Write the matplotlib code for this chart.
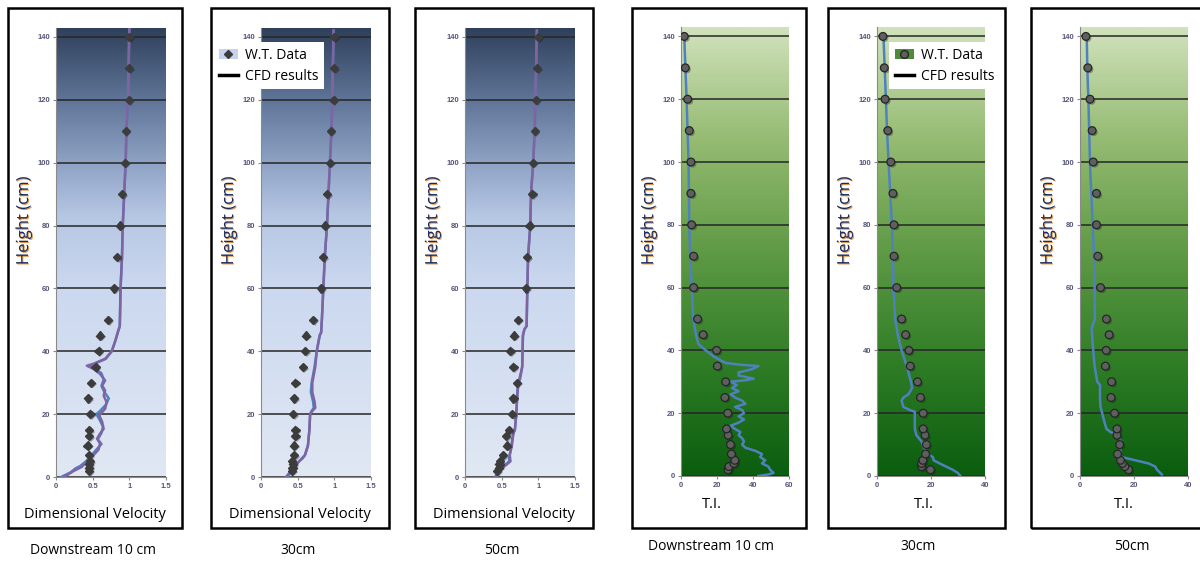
"""Velocity and turbulence-intensity profiles: wind tunnel vs CFD, six panels."""
import numpy as np
import matplotlib
matplotlib.use("Agg")
import matplotlib.pyplot as plt
import matplotlib.patheffects as pe
from matplotlib.colors import LinearSegmentedColormap
from matplotlib.lines import Line2D
from matplotlib.patches import Patch, Rectangle

# ---- data -------------------------------------------------------------
WT_HEIGHT = [2, 3, 4, 5, 7, 10, 13, 15, 20, 25, 30, 35, 40, 45, 50,
             60, 70, 80, 90, 100, 110, 120, 130, 140]

VEL_WT_10 = [0.45, 0.45, 0.45, 0.46, 0.45, 0.43, 0.45, 0.45, 0.47, 0.44, 0.48, 0.54,
             0.58, 0.60, 0.71, 0.79, 0.83, 0.87, 0.90, 0.94, 0.95, 1.00, 1.00, 1.00]
VEL_WT_30 = [0.42, 0.43, 0.44, 0.42, 0.45, 0.45, 0.47, 0.47, 0.44, 0.45, 0.47, 0.57,
             0.60, 0.61, 0.71, 0.82, 0.85, 0.87, 0.90, 0.94, 0.95, 0.99, 1.00, 1.00]
VEL_WT_50 = [0.44, 0.46, 0.47, 0.48, 0.52, 0.57, 0.56, 0.60, 0.64, 0.66, 0.71, 0.66,
             0.62, 0.67, 0.72, 0.83, 0.85, 0.88, 0.92, 0.93, 0.95, 0.97, 0.98, 1.00]

TI_WT_10 = [26.2, 26.6, 29.4, 29.9, 28.0, 27.5, 26.2, 25.3, 26.0, 24.4, 24.8, 20.2,
            19.8, 12.3, 9.2, 7.0, 7.0, 5.9, 5.5, 5.5, 4.6, 3.7, 2.4, 1.8]
TI_WT_30 = [19.8, 16.5, 16.5, 17.0, 18.0, 18.3, 17.8, 17.1, 17.1, 16.1, 15.0, 12.3,
            11.8, 10.6, 9.1, 7.3, 6.3, 6.3, 5.9, 5.1, 4.0, 3.0, 2.7, 2.2]
TI_WT_50 = [18.0, 16.6, 15.7, 15.0, 13.9, 14.7, 13.7, 13.7, 12.8, 11.5, 11.7, 9.4,
            9.7, 10.8, 9.8, 7.6, 6.6, 6.1, 6.1, 4.9, 4.5, 3.7, 2.9, 2.2]

# CFD velocity, 10 cm (purple run and blue run)
CFD_H_10 = [0, 1.9, 3.2, 4.8, 6.9, 8.7, 10.6, 12.2, 13.8, 15.3, 17.5, 19.6, 21.7, 23.8,
            25.9, 27.5, 29.1, 30.7, 32.8, 34.4, 35.4, 36, 37.6, 40, 43.4, 46.6, 48,
            60, 70, 80, 90, 100, 110, 120, 130, 143]
CFD_V_10 = [0.11, 0.24, 0.35, 0.42, 0.51, 0.58, 0.60, 0.56, 0.60, 0.65, 0.63, 0.59, 0.67,
            0.69, 0.65, 0.67, 0.63, 0.67, 0.60, 0.51, 0.42, 0.51, 0.67, 0.76, 0.81, 0.85,
            0.87, 0.88, 0.90, 0.91, 0.93, 0.95, 0.96, 0.98, 0.99, 1.00]
CFD_H_10B = [0, 1.5, 2.8, 3.5, 4.8, 6.5, 8.7, 10.5, 12, 14, 16, 18, 20, 21, 23, 25, 27,
             29, 31, 33, 34.4, 35.4, 36, 37.6, 40, 43.4, 46.6, 48, 60, 70, 80, 90, 100,
             110, 120, 130, 143]
CFD_V_10B = [0.07, 0.20, 0.27, 0.33, 0.40, 0.47, 0.55, 0.62, 0.57, 0.62, 0.64, 0.60, 0.55,
             0.60, 0.68, 0.72, 0.66, 0.62, 0.65, 0.62, 0.53, 0.45, 0.52, 0.68, 0.76, 0.81,
             0.85, 0.87, 0.88, 0.90, 0.91, 0.93, 0.95, 0.96, 0.98, 0.99, 1.00]

CFD_H_30 = [0, 2, 5, 6, 7, 10, 15, 20, 21, 22, 24, 27, 30, 35, 40, 45, 46, 50, 60, 70,
            80, 90, 100, 110, 120, 130, 142]
CFD_V_30 = [0.34, 0.41, 0.52, 0.57, 0.60, 0.64, 0.66, 0.67, 0.70, 0.74, 0.73, 0.70, 0.70,
            0.74, 0.76, 0.80, 0.82, 0.83, 0.85, 0.87, 0.90, 0.92, 0.94, 0.96, 0.97, 0.98, 0.99]
CFD_V_30B = [0.36, 0.42, 0.52, 0.56, 0.60, 0.64, 0.66, 0.67, 0.69, 0.72, 0.71, 0.68, 0.69,
             0.73, 0.76, 0.80, 0.82, 0.83, 0.85, 0.87, 0.90, 0.92, 0.94, 0.96, 0.97, 0.98, 0.99]

CFD_H_50 = [0, 2, 4, 5, 7, 10, 14, 15, 20, 25, 30, 31, 35, 45, 47, 48, 60, 70, 80, 90,
            100, 110, 120, 130, 142]
CFD_V_50 = [0.41, 0.46, 0.57, 0.62, 0.61, 0.64, 0.66, 0.68, 0.70, 0.71, 0.73, 0.74, 0.78,
            0.79, 0.81, 0.84, 0.85, 0.86, 0.89, 0.90, 0.93, 0.95, 0.96, 0.97, 0.98]
CFD_V_50B = [0.43, 0.47, 0.56, 0.60, 0.61, 0.63, 0.66, 0.68, 0.70, 0.71, 0.72, 0.75, 0.78,
             0.79, 0.81, 0.84, 0.85, 0.86, 0.89, 0.90, 0.93, 0.95, 0.96, 0.97, 0.98]

# CFD turbulence intensity
CFD_TI_H_10 = [0, 0.5, 1, 2, 3, 4, 5, 6, 7, 8, 9, 10, 11, 12, 13, 14, 15, 16, 17, 18,
               19, 20, 21, 22, 23, 24, 25, 26, 27, 28, 29, 30, 30.5, 31, 32, 33, 34, 35,
               35.5, 36, 38, 40, 42, 45, 50, 60, 70, 80, 100, 120, 140]
CFD_TI_10 = [43, 48.6, 51.4, 49.5, 48.6, 45, 46.8, 44, 45, 41.3, 35.8, 34, 35, 34, 32,
             33, 30, 27.5, 32, 35, 32, 35, 34, 30, 35.8, 34, 30, 27.5, 32, 28.4, 31,
             27.5, 35.8, 40.4, 32, 32, 39.4, 43, 32, 24.8, 18.3, 13.8, 9.7, 8.3, 6.8,
             6.0, 5.1, 4.6, 4.2, 3.1, 1.8]
CFD_TI_H_30 = [0, 1, 2, 3, 4, 5, 6, 7, 8, 9, 11, 13, 15, 20, 20.5, 21, 22, 24, 25, 26,
               28, 30, 35, 40, 45, 50, 60, 70, 80, 90, 100, 110, 120, 140]
CFD_TI_30 = [30.9, 29.9, 28, 25.6, 23.2, 21, 20.7, 18.9, 18.3, 17.4, 16.5, 14.6, 14, 14,
             14, 12.2, 9.8, 9.1, 9.8, 11.6, 13, 12.6, 11, 9.1, 7.7, 6.7, 6.1, 5.9, 5.5,
             4.9, 4.3, 3.7, 3.3, 2.4]
CFD_TI_H_50 = [0.5, 1, 2, 3, 4, 5, 6, 7, 8, 10, 11, 13, 14, 15, 17, 20, 22, 25, 29, 30,
               35, 40, 47, 50, 60, 70, 80, 90, 95, 100, 110, 120, 130, 140]
CFD_TI_50 = [30.3, 29.7, 28.5, 27.9, 25.4, 20.5, 15.6, 15, 15, 15, 15.3, 14, 11.3, 9.8,
             9.1, 8.2, 7.6, 7.4, 7.4, 6.4, 5.4, 4.9, 4.3, 5.5, 5.4, 5.2, 4.7, 4.2, 3.9,
             3.7, 3.4, 3.1, 2.7, 2.5]

VEL_TICKS = [0, 0.5, 1, 1.5]
VEL_TICK_LABELS = ["0", "0.5", "1", "1.5"]
HEIGHT_TICKS = [0, 20, 40, 60, 80, 100, 120, 140]
PANEL_NAMES = ["Downstream 10 cm", "30cm", "50cm"]

# ---- styling -----------------------------------------------------------
W, H = 1200, 561
LABEL_FONT = ["Open Sans", "DejaVu Sans"]
TICK_FONT = ["Liberation Sans", "DejaVu Sans"]
PURPLE = "#8064a2"
BLUE = "#4f81bd"

VEL_CMAP = LinearSegmentedColormap.from_list("vel", [
    (0.0, "#e1e8f4"), (0.42, "#cbd8ef"), (0.58, "#b6c7e4"),
    (0.70, "#8ea2c4"), (0.84, "#5f7497"), (1.0, "#2f405b")])
TI_CMAP = LinearSegmentedColormap.from_list("ti", [
    (0.0, "#0b5d0f"), (0.25, "#2f7d26"), (0.5, "#5f9a45"),
    (0.75, "#95bb72"), (1.0, "#d1e2bc")])


def fx(px):
    return px / W


def fy(py):
    return 1 - py / H


def make_axes(fig, left, width, bottom, top, xmax, cmap):
    ax = fig.add_axes([fx(left), fy(bottom), width / W, (bottom - top) / H])
    ax.imshow(np.linspace(0, 1, 256).reshape(-1, 1), cmap=cmap, aspect="auto",
              origin="lower", extent=[0, xmax, 0, 143], zorder=0)
    ax.set_xlim(0, xmax)
    ax.set_ylim(0, 143)
    ax.set_yticks(HEIGHT_TICKS)
    ax.set_axisbelow(True)
    ax.grid(axis="y", color="#262626", linewidth=1.1)
    for side in ("top", "right"):
        ax.spines[side].set_visible(False)
    for side in ("left", "bottom"):
        ax.spines[side].set_color("#8a8a8a")
    ax.tick_params(labelsize=5.5, labelcolor="#55557a", color="#8a8a8a",
                   length=2.5, pad=1.5)
    return ax


def style_ticklabels(ax):
    for lab in ax.get_xticklabels() + ax.get_yticklabels():
        lab.set_family(TICK_FONT)
        lab.set_fontweight("bold")


def height_label(fig, x, y):
    fig.text(fx(x), fy(y), "Height (cm)", rotation=90, ha="center", va="center",
             fontsize=12, color="#1b2b5c", family=LABEL_FONT,
             path_effects=[pe.SimplePatchShadow(offset=(0.7, -0.7), shadow_rgbFace="#e08a30",
                                                alpha=0.85), pe.Normal()])


def frame(fig, x0, y0, x1, y1):
    fig.add_artist(Rectangle((fx(x0), fy(y1)), (x1 - x0) / W, (y1 - y0) / H,
                             transform=fig.transFigure, fill=False,
                             edgecolor="black", linewidth=1.8, zorder=0))


shadow = [pe.SimplePatchShadow(offset=(1.2, -1.2), alpha=0.35), pe.Normal()]

fig = plt.figure(figsize=(12, 5.61), dpi=100)
fig.patch.set_facecolor("white")

# ---- velocity panels ---------------------------------------------------
vel_frames = [(8, 182), (211, 389), (415, 593)]
vel_left = [56, 261, 465]
vel_wt = [VEL_WT_10, VEL_WT_30, VEL_WT_50]
vel_cfd = [(CFD_H_10, CFD_V_10, CFD_H_10B, CFD_V_10B),
           (CFD_H_30, CFD_V_30, CFD_H_30, CFD_V_30B),
           (CFD_H_50, CFD_V_50, CFD_H_50, CFD_V_50B)]

for i in range(3):
    frame(fig, vel_frames[i][0], 8, vel_frames[i][1], 528)
    ax = make_axes(fig, vel_left[i], 110, 477, 27.5, 1.5, VEL_CMAP)
    ax.set_xticks(VEL_TICKS)
    ax.set_xticklabels(VEL_TICK_LABELS)
    style_ticklabels(ax)
    hb, vb = vel_cfd[i][2], vel_cfd[i][3]
    h, v = vel_cfd[i][0], vel_cfd[i][1]
    ax.plot(vb, hb, color=BLUE, linewidth=1.8, zorder=3)
    ax.plot(v, h, color=PURPLE, linewidth=1.8, zorder=4)
    ax.plot(vel_wt[i], WT_HEIGHT, linestyle="none", marker="D", markersize=4.2,
            color="#3c3c3c", zorder=5, path_effects=shadow)
    cx = (vel_frames[i][0] + vel_frames[i][1]) / 2
    fig.text(fx(cx), fy(514), "Dimensional Velocity", ha="center", va="center",
             fontsize=10.5, family=LABEL_FONT, color="black")
    fig.text(fx(cx - 2), fy(551), PANEL_NAMES[i], ha="center", va="center",
             fontsize=10, family=LABEL_FONT, color="black")
    height_label(fig, vel_left[i] - 32, 221)

# ---- turbulence intensity panels ---------------------------------------
ti_frames = [(632, 806), (828, 1005), (1031, 1215)]
ti_left = [681, 877, 1080]
ti_max = [60, 40, 40]
ti_ticks = [[0, 20, 40, 60], [0, 20, 40], [0, 20, 40]]
ti_wt = [TI_WT_10, TI_WT_30, TI_WT_50]
ti_cfd = [(CFD_TI_H_10, CFD_TI_10), (CFD_TI_H_30, CFD_TI_30), (CFD_TI_H_50, CFD_TI_50)]
ti_label_x = [712, 924, 1124]
ti_name_x = [711, 918, 1132]

for i in range(3):
    frame(fig, ti_frames[i][0], 8, ti_frames[i][1], 528)
    ax = make_axes(fig, ti_left[i], 108, 476, 27, ti_max[i], TI_CMAP)
    ax.set_xticks(ti_ticks[i])
    style_ticklabels(ax)
    ax.plot(ti_cfd[i][1], ti_cfd[i][0], color=BLUE, linewidth=1.8, zorder=3)
    ax.plot(ti_wt[i], WT_HEIGHT, linestyle="none", marker="o", markersize=5.6,
            markerfacecolor="#5f5f5f", markeredgecolor="#262626", markeredgewidth=0.9,
            zorder=5, path_effects=shadow)
    fig.text(fx(ti_label_x[i]), fy(505), "T.I.", ha="center", va="center",
             fontsize=10.5, family=LABEL_FONT, color="black")
    fig.text(fx(ti_name_x[i]), fy(546), PANEL_NAMES[i], ha="center", va="center",
             fontsize=10, family=LABEL_FONT, color="black")
    height_label(fig, ti_left[i] - 32, 221)

# ---- legends ----------------------------------------------------------
legend_kw = dict(loc="upper left", frameon=True, fancybox=False, framealpha=1,
                 edgecolor="none", facecolor="white",
                 prop={"family": LABEL_FONT, "size": 10}, handlelength=1.4,
                 handletextpad=0.5, borderpad=0.4, labelspacing=0.45, borderaxespad=0)

vel_handles = [(Patch(facecolor="#c5d3ec", edgecolor="none"),
                Line2D([], [], linestyle="none", marker="D", markersize=4.2, color="#3c3c3c")),
               Line2D([], [], color="black", linewidth=2.5)]
fig.legend(vel_handles, ["W.T. Data", "CFD results"],
           bbox_to_anchor=(fx(213), fy(42)), **legend_kw)

ti_handles = [(Patch(facecolor="#4f8a3b", edgecolor="none"),
               Line2D([], [], linestyle="none", marker="o", markersize=5.6,
                      markerfacecolor="#5f5f5f", markeredgecolor="#262626")),
              Line2D([], [], color="black", linewidth=2.5)]
fig.legend(ti_handles, ["W.T. Data", "CFD results"],
           bbox_to_anchor=(fx(889), fy(42)), **legend_kw)

fig.savefig("out.png", dpi=100)
plt.close(fig)
